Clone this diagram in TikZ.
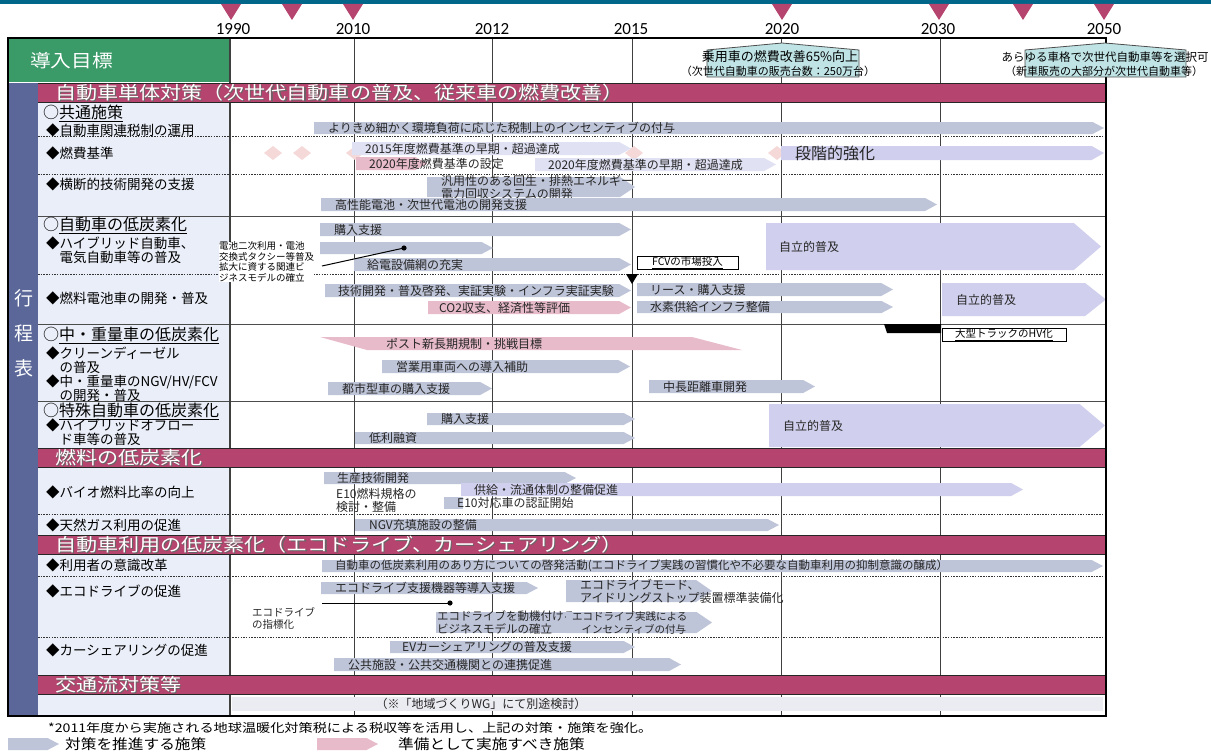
\documentclass[tikz,border=0pt]{standalone}
\usepackage{graphicx}
\usepackage{fontspec}
\setmainfont{Noto Sans CJK JP}
\newfontfamily\yearfont{Carlito}
\usetikzlibrary{calc}

\definecolor{topblue}{HTML}{00668A}
\definecolor{plum}{HTML}{B5446E}
\definecolor{goalgreen}{HTML}{3A9A68}
\definecolor{stripblue}{HTML}{5A6798}
\definecolor{labelbg}{HTML}{EAEEF8}
\definecolor{bargrey}{HTML}{BFC5D9}
\definecolor{barlav}{HTML}{D0D0EE}
\definecolor{barpale}{HTML}{E0E1F3}
\definecolor{barpink}{HTML}{E8BBCB}
\definecolor{diapink}{HTML}{F5D9D9}
\definecolor{goalteal}{HTML}{C0E4E6}
\definecolor{bandgrey}{HTML}{EBEBF2}

\tikzset{
  bartext/.style={anchor=west, inner sep=0pt, align=left, text=black!85,
    font=\fontsize{12}{13}\selectfont},
  rowlabel/.style={anchor=west, inner sep=0pt, align=left,
    font=\fontsize{13.5}{14}\selectfont},
  grouplabel/.style={anchor=west, inner sep=0pt, font=\fontsize{16}{17}\selectfont},
  secttext/.style={anchor=west, inner sep=0pt, text=white,
    font=\fontsize{18}{19}\selectfont},
  yearlabel/.style={inner sep=0pt, font=\yearfont\fontsize{17}{18}\selectfont},
  gridline/.style={draw=black!75, line width=0.9pt},
  rowline/.style={draw=black!70, line width=0.9pt},
  subline/.style={draw=black!80, line width=0.7pt, dash pattern=on 1.5pt off 1.2pt},
  goalnote/.style={inner sep=0pt},
  markbox/.style={draw=black, line width=1pt, fill=white, inner sep=0pt,
    font=\fontsize{10.5}{11}\selectfont},
  smallnote/.style={anchor=west, inner sep=0pt, align=left,
    font=\fontsize{9.5}{10.7}\selectfont},
  legendtext/.style={anchor=west, inner sep=0pt, font=\fontsize{14}{15}\selectfont}
}

% arrow-shaped bar: colour, x from, x tip, y top, y bottom
\newcommand{\planshape}[5]{%
  \fill[#1] (#2,#4) -- ({#3-6-0.45*(#5-#4)},#4) -- (#3,{(#4+#5)/2})
    -- ({#3-6-0.45*(#5-#4)},#5) -- (#2,#5) -- cycle;}
% [text offset] name, colour, x from, x tip, y top, y bottom, text
\newcommand{\planbar}[8][13]{%
  \planshape{#3}{#4}{#5}{#6}{#7}
  \node[bartext] (#2) at ({#4+#1},{(#6+#7)/2}) {#8};}
% section band: name, y top, text
\newcommand{\sectbar}[3]{%
  \fill[plum] (38,#2) rectangle (1106,{#2+19});
  \draw[black!85, line width=0.9pt] (38,#2) -- (1106,#2) (38,{#2+19}) -- (1106,{#2+19});
  \node[secttext, text=black!60] (#1-sh) at (56.2,{#2+10.7}) {\scalebox{1.17}[1]{#3}};
  \node[secttext] (#1) at (55,{#2+9.6}) {\scalebox{1.17}[1]{#3}};}

\begin{document}
\begin{tikzpicture}[x=1pt, y=-1pt]
  \useasboundingbox (0,0) rectangle (1211,752);
  \def\xL{38}
  \def\xR{1106}
  \def\yB{716}

  % time axis
  \fill[topblue] (0,0) rectangle (1211,4);
  \foreach \x in {231,292,353,782,939,1023,1104}
    \fill[plum] ({\x-10},4) -- ({\x+10},4) -- (\x,20) -- cycle;
  \foreach \yr/\x in {1990/233, 2010/353, 2012/492, 2015/631, 2020/782, 2030/938, 2050/1104}
    \node[yearlabel] (y\yr) at (\x,29) {\yr};

  % backgrounds
  \fill[goalgreen] (9,39) rectangle (230,82);
  \node[anchor=west, inner sep=0pt, text=white, font=\fontsize{18}{19}\selectfont]
    (goal) at (30,61) {\scalebox{1.15}[1]{導入目標}};
  \fill[stripblue] (9,83) rectangle (\xL,\yB);
  \fill[labelbg] (\xL,102) rectangle (230,\yB);
  \foreach \ch/\y in {行/298, 程/333, 表/368}
    \node[inner sep=0pt, text=white, font=\fontsize{19}{20}\selectfont] (strip\y) at (24,\y) {\ch};

  % rows
  \foreach \y in {216,324,401}
    \draw[rowline] (\xL,\y) -- (\xR,\y);
  \foreach \y in {136,174,274,514,576,637}
    \draw[subline] (\xL,\y) -- (\xR,\y);
  \draw[gridline, line width=1.2pt] (230,38) -- (230,\yB);
  \foreach \x in {354,492,632,781,940}
    \draw[gridline] (\x,38) -- (\x,\yB);

  % row labels
  \node[grouplabel] (grpcommon) at (43,113) {○\underline{共通施策}};
  \node[rowlabel] (lbltax) at (46,130) {◆自動車関連税制の運用};
  \node[rowlabel] (lblfuel) at (46,153) {◆燃費基準};
  \node[rowlabel] (lbltech) at (46,184) {◆横断的技術開発の支援};
  \node[grouplabel] (grpvehicle) at (43,225) {○\underline{自動車の低炭素化}};
  \node[rowlabel] (lblhv) at (46,250) {◆ハイブリッド自動車、\\\hspace*{1em}電気自動車等の普及};
  \node[rowlabel] (lblfc) at (46,298) {◆燃料電池車の開発・普及};
  \node[grouplabel] (grpheavy) at (43,335) {○\underline{中・重量車の低炭素化}};
  \node[rowlabel] (lbldiesel) at (46,360) {◆クリーンディーゼル\\\hspace*{1em}の普及};
  \node[rowlabel] (lblngv) at (46,388) {◆中・重量車のNGV/HV/FCV\\\hspace*{1em}の開発・普及};
  \node[grouplabel] (grpspecial) at (43,411) {○\underline{特殊自動車の低炭素化}};
  \node[rowlabel] (lbloffroad) at (46,432) {◆ハイブリッドオフロー\\\hspace*{1em}ド車等の普及};
  \node[rowlabel] (lblbio) at (46,492) {◆バイオ燃料比率の向上};
  \node[rowlabel] (lblgas) at (46,525) {◆天然ガス利用の促進};
  \node[rowlabel] (lblaware) at (46,565) {◆利用者の意識改革};
  \node[rowlabel] (lbleco) at (46,591) {◆エコドライブの促進};
  \node[rowlabel] (lblshare) at (46,650) {◆カーシェアリングの促進};

  % common measures
  \planbar[14]{taxbar}{bargrey}{314}{1104}{122}{134}{よりきめ細かく環境負荷に応じた税制上のインセンティブの付与}
  \foreach \x in {273,302,355,634,777}
    \fill[diapink] ({\x-9},153) -- (\x,146) -- ({\x+9},153) -- (\x,160) -- cycle;
  \planbar{std2015}{barpale}{352}{631}{142}{155}{2015年度燃費基準の早期・超過達成}
  \planbar{std2020set}{barpink}{356}{427}{157}{170}{2020年度燃費基準の設定}
  \planbar{std2020}{barpale}{535}{776}{158}{171}{2020年度燃費基準の早期・超過達成}
  \planbar[14]{stepup}{barlav}{781}{1104}{146}{160}{\fontsize{16}{17}\selectfont 段階的強化}
  \planbar[14]{regen}{bargrey}{427}{635}{177}{197}{汎用性のある回生・排熱エネルギー\\電力回収システムの開発}
  \planbar[14]{battery}{bargrey}{321}{937}{198}{211}{高性能電池・次世代電池の開発支援}

  % low-carbon vehicles
  \planbar[14]{buyhv}{bargrey}{320}{631}{223}{236}{購入支援}
  \planshape{bargrey}{320}{493}{242}{254}
  \planbar{charge}{bargrey}{354}{631}{258}{271}{給電設備網の充実}
  \coordinate (batline-start) at (322,266);
  \coordinate (batline-dot) at (404,248);
  \draw[line width=1pt] (batline-start) -- (batline-dot);
  \fill (batline-dot) circle (2.6);
  \node[markbox, minimum width=101, minimum height=13] (fcvmarket) at (687.5,263) {\underline{FCVの市場投入}};
  \fill (626,274) -- (638,274) -- (632,284) -- cycle;
  \planbar{selfhv}{barlav}{766}{1101}{223}{270}{自立的普及}
  \planbar{fcdev}{bargrey}{325}{631}{284}{297}{技術開発・普及啓発、実証実験・インフラ実証実験}
  \planbar[11]{co2}{barpink}{428}{631}{301}{314}{CO2収支、経済性等評価}
  \planbar{lease}{bargrey}{637}{893}{283}{296}{リース・購入支援}
  \planbar{h2infra}{bargrey}{637}{893}{301}{313}{水素供給インフラ整備}
  \planbar[14]{selffc}{barlav}{942}{1106}{283}{316}{自立的普及}

  % heavy vehicles
  \fill (884,324) -- (941,324) -- (941,333) -- (887,333) -- cycle;
  \node[markbox, minimum width=124, minimum height=13] (hvtruck) at (1004,334.5) {\underline{大型トラックのHV化}};
  \fill[barpink] (320,337) -- (692,337) -- (742,350) -- (367,350) -- cycle;
  \node[bartext] (postreg) at (386,344) {ポスト新長期規制・挑戦目標};
  \planbar[14]{fleet}{bargrey}{382}{630}{360}{373}{営業用車両への導入補助}
  \planbar[14]{citybus}{bargrey}{328}{492}{382}{395}{都市型車の購入支援}
  \planbar[14]{longhaul}{bargrey}{649}{815}{380}{393}{中長距離車開発}

  % special vehicles
  \planbar[14]{buyspec}{bargrey}{427}{635}{413}{425}{購入支援}
  \planbar[14]{loan}{bargrey}{355}{635}{432}{444}{低利融資}
  \planbar[14]{selfspec}{barlav}{769}{1105}{404}{447}{自立的普及}

  % fuels
  \planbar{prodtech}{bargrey}{324}{576}{472}{484}{生産技術開発}
  \node[bartext] (e10spec) at (336,500) {E10燃料規格の\\検討・整備};
  \planbar{supply}{barlav}{461}{1023}{483}{496}{供給・流通体制の整備促進}
  \fill[bargrey] (444,497) rectangle (463,509);
  \node[bartext] (e10cert) at (457,503) {E10対応車の認証開始};
  \planbar[14]{ngv}{bargrey}{355}{779}{519}{531}{NGV充填施設の整備}

  % vehicle use
  \planbar{aware}{bargrey}{322}{1103}{560}{572}{\fontsize{11.5}{13}\selectfont 自動車の低炭素利用のあり方についての啓発活動(エコドライブ実践の習慣化や不必要な自動車利用の抑制意識の醸成）}
  \planbar[14]{ecodev}{bargrey}{321}{538}{582}{594}{エコドライブ支援機器等導入支援}
  \planbar[14]{ecomode}{bargrey}{566}{712}{580}{602}{エコドライブモード、\\アイドリングストップ装置標準装備化}
  \coordinate (ecoline-start) at (322,603);
  \coordinate (ecoline-dot) at (450,603);
  \draw[line width=1pt] (ecoline-start) -- (ecoline-dot);
  \fill (ecoline-dot) circle (2.6);
  \node[bartext, font=\fontsize{10.5}{12}\selectfont] (ecoindex) at (252,618) {エコドライブ\\の指標化};
  \fill[bargrey] (436,612) rectangle (570,633);
  \node[bartext, font=\fontsize{11.5}{13}\selectfont] (ecobiz) at (437,622.5) {エコドライブを動機付ける\\ビジネスモデルの確立};
  \planbar[6]{ecoincent}{bargrey}{566}{712}{612}{633}{\fontsize{10.5}{12}\selectfont エコドライブ実践による\\\fontsize{10.5}{12}\selectfont\hspace*{0.9em}インセンティブの付与}
  \planbar[12]{evshare}{bargrey}{390}{635}{641}{653}{EVカーシェアリングの普及支援}
  \planbar[14]{publink}{bargrey}{334}{681}{658}{671}{公共施設・公共交通機関との連携促進}

  % traffic flow
  \fill[bandgrey] (232,697) rectangle (1103,711);
  \node[bartext, anchor=center] (region) at (481,704) {（※「地域づくりWG」にて別途検討）};

  % note beside the battery bar
  \node[smallnote, fill=white] (batnote) at (219,262) {電池二次利用・電池\\交換式タクシー等普及\\拡大に資する関連ビ\\ジネスモデルの確立};

  % section bands
  \sectbar{sectvehicle}{83}{自動車単体対策（次世代自動車の普及、従来車の燃費改善）}
  \sectbar{sectfuel}{448}{燃料の低炭素化}
  \sectbar{sectuse}{535}{自動車利用の低炭素化（エコドライブ、カーシェアリング）}
  \sectbar{secttraffic}{675}{交通流対策等}

  % frame
  \draw[line width=2.4pt] (8,38) rectangle (\xR,\yB);

  % targets
  \filldraw[fill=goalteal, draw=black!70, line width=0.8pt]
    (707,50) -- (782,43) -- (859,50) -- (859,77) -- (707,77) -- cycle;
  \node[goalnote, font=\fontsize{13}{14}\selectfont] (goal2020a) at (780,57) {乗用車の燃費改善65\%向上};
  \node[goalnote, font=\fontsize{11}{12}\selectfont] (goal2020b) at (778,71) {（次世代自動車の販売台数：250万台）};
  \filldraw[fill=goalteal, draw=black!70, line width=0.8pt]
    (1025,50) -- (1105,43) -- (1186,50) -- (1186,77) -- (1025,77) -- cycle;
  \node[goalnote, font=\fontsize{11.5}{12}\selectfont] (goal2050a) at (1105,57) {あらゆる車格で次世代自動車等を選択可};
  \node[goalnote, font=\fontsize{11}{12}\selectfont] (goal2050b) at (1104,71) {（新車販売の大部分が次世代自動車等）};

  % footnote and legend
  \node[anchor=west, inner sep=0pt, font=\fontsize{12}{13}\selectfont] (footnote) at (48,728)
    {\scalebox{1.18}[1]{*2011年度から実施される地球温暖化対策税による税収等を活用し、上記の対策・施策を強化。}};
  \planshape{bargrey}{8}{59}{738}{750}
  \node[legendtext] (legpush) at (65,744) {\scalebox{1.12}[1]{対策を推進する施策}};
  \planshape{barpink}{317}{378}{738}{750}
  \node[legendtext] (legprep) at (398,744) {\scalebox{1.12}[1]{準備として実施すべき施策}};
\end{tikzpicture}
\end{document}
